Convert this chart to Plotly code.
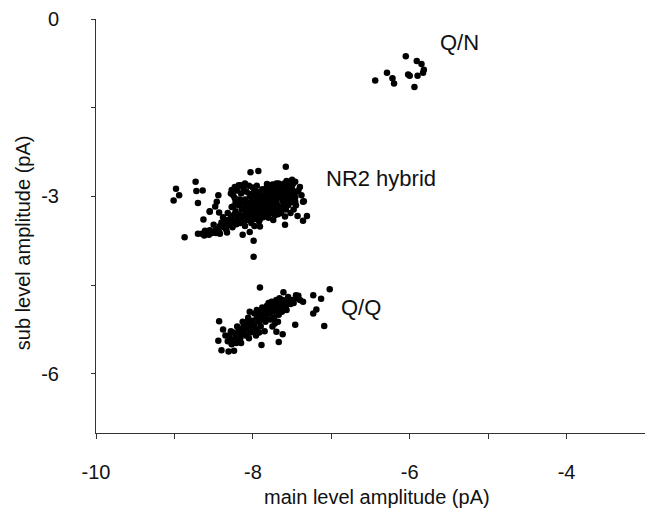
import plotly.graph_objects as go

# ---- data (pA) ----
qn_main = [-6.05, -5.91, -5.85, -6.29, -6.44, -6.22, -6.20, -6.02, -6.00, -5.90, -5.83, -5.82, -5.94]
qn_sub = [-0.63, -0.71, -0.76, -0.91, -1.04, -1.00, -1.09, -0.94, -0.96, -0.96, -0.91, -0.86, -1.15]

nr2_main = [
    -7.58, -8.03, -7.93, -8.98, -8.94, -9.01, -8.73, -8.72, -8.64, -8.70, -8.87, -7.99, -7.99, -7.59,
    -7.43, -7.31, -7.36, -7.35, -7.50, -7.46, -7.40, -7.44, -7.38, -7.55, -7.36, -7.46, -8.44, -8.46,
    -8.48, -8.55, -8.43, -8.27, -8.23, -8.16, -8.28, -8.23, -8.25, -8.18, -8.10, -7.82, -7.76, -7.67,
    -7.97, -8.55, -8.63, -8.50, -8.38, -8.70, -8.61, -8.55, -8.42, -8.33, -8.12, -8.13, -8.04, -7.91,
    -7.74, -7.59,
    -8.10, -8.05, -8.00, -7.95, -7.90, -7.85, -7.80, -7.75, -7.70, -7.65, -7.60,
    -8.12, -8.06, -8.01, -7.96, -7.91, -7.86, -7.81, -7.76, -7.71, -7.66, -7.62,
    -8.15, -8.08, -8.03, -7.98, -7.93, -7.88, -7.83, -7.78, -7.73, -7.68,
    -8.20, -8.14, -8.09, -8.04, -7.99, -7.94, -7.89, -7.84, -7.79, -7.74, -7.69,
    -8.28, -8.24, -8.19, -8.16, -8.30, -8.35, -8.37, -8.42, -8.45, -8.26, -8.22, -8.18, -8.13,
    -7.96, -7.92, -7.87, -7.82, -7.77, -7.72, -7.67, -7.63,
    -8.07, -8.02, -7.98, -8.10,
    -7.58, -7.55, -7.52, -7.57, -7.53, -7.62, -7.66, -7.70, -7.60,
    -8.00, -7.95, -8.05, -7.90, -7.85, -7.80, -7.92, -8.02, -7.98, -7.88,
    -8.17, -8.22, -8.27, -8.32, -8.38, -8.40, -8.34, -8.48, -8.52, -8.58, -8.65, -8.62, -8.56, -8.47, -8.43,
    -8.25, -8.20, -8.12, -7.75, -7.70, -7.60, -7.56, -7.50, -7.48, -7.46, -7.42,
    -7.72, -7.68, -7.64, -7.58, -7.55, -7.50, -7.45, -7.48, -7.52,
    -7.84, -7.94, -8.04, -7.74, -7.64, -7.90, -7.80, -8.14, -8.08, -7.97, -7.82,
    -7.99, -7.93, -7.87, -7.81, -7.77, -8.01, -7.95, -7.89, -7.83, -7.78, -8.06, -7.86, -7.76,
    -8.11, -8.00, -7.91, -7.79, -7.71, -8.16, -8.21, -8.30, -8.36,
    -7.97, -7.88, -7.79, -7.69, -7.62, -7.54, -8.08, -7.93, -7.84, -7.73, -8.18, -8.24, -7.57, -7.49,
]
nr2_sub = [
    -2.50, -2.59, -2.57, -2.87, -2.98, -3.07, -2.75, -2.91, -2.90, -3.11, -3.69, -4.02, -3.75, -3.48,
    -3.33, -3.33, -3.41, -3.08, -2.72, -2.75, -2.84, -2.92, -2.98, -2.98, -3.09, -3.09, -2.98, -3.09,
    -3.17, -3.25, -3.27, -2.89, -2.84, -2.81, -2.95, -3.03, -3.17, -2.81, -2.78, -2.79, -2.81, -2.78,
    -2.92, -3.26, -3.39, -3.48, -3.45, -3.63, -3.58, -3.57, -3.63, -3.61, -3.45, -3.65, -3.60, -3.51,
    -3.40, -3.34,
    -3.05, -3.12, -3.02, -3.10, -3.05, -3.00, -2.95, -2.98, -2.92, -2.90, -2.95,
    -3.20, -3.25, -3.18, -3.22, -3.15, -3.12, -3.08, -3.10, -3.05, -3.02, -3.08,
    -2.95, -2.92, -2.96, -2.90, -2.93, -2.88, -2.86, -2.88, -2.84, -2.86,
    -3.30, -3.35, -3.28, -3.33, -3.27, -3.30, -3.24, -3.20, -3.22, -3.18, -3.15,
    -3.35, -3.42, -3.38, -3.45, -3.48, -3.40, -3.52, -3.50, -3.55, -3.52, -3.25, -3.15, -3.10,
    -3.38, -3.42, -3.35, -3.30, -3.28, -3.25, -3.22, -3.18,
    -3.40, -3.45, -3.50, -3.50,
    -2.88, -2.92, -3.00, -3.05, -2.85, -2.82, -2.98, -3.10, -3.12,
    -2.85, -2.82, -2.82, -2.98, -3.06, -3.14, -3.08, -3.08, -3.14, -3.18,
    -3.05, -3.10, -3.18, -3.28, -3.35, -3.44, -3.56, -3.58, -3.62, -3.60, -3.63, -3.66, -3.65, -3.62, -3.60,
    -2.98, -2.90, -2.86, -2.80, -2.78, -2.78, -2.80, -2.88, -2.95, -3.02, -2.90,
    -3.32, -3.30, -3.28, -3.22, -3.15, -3.10, -3.15, -3.22, -3.28,
    -2.92, -2.98, -3.00, -2.92, -2.84, -3.28, -3.36, -3.22, -3.15, -3.20, -2.98,
    -3.04, -3.02, -3.03, -3.04, -3.15, -3.12, -3.16, -3.11, -3.17, -3.01, -3.22, -3.23, -3.26,
    -3.33, -3.36, -3.38, -3.26, -3.21, -3.32, -3.47, -3.40, -3.46,
    -2.97, -3.07, -3.19, -2.96, -3.00, -3.04, -3.31, -3.24, -3.27, -3.12, -3.08, -3.31, -2.74, -2.79,
]

qq_main = [
    -7.91, -8.43, -8.44, -8.40, -8.31, -8.24, -7.89, -8.21, -7.61, -7.45, -7.23, -7.13, -7.02, -7.19,
    -7.23, -7.36, -7.46, -7.09, -7.70, -7.62, -7.67,
    -8.04, -7.95, -8.06, -8.12, -8.18, -8.27, -7.82, -7.76,
    -8.30, -8.25, -8.22, -8.18, -8.15, -8.12, -8.10, -8.08, -8.05, -8.02, -8.00, -7.98, -7.95, -7.92,
    -7.90, -7.88, -7.85, -7.83, -7.80, -7.78, -7.75, -7.72, -7.70, -7.68, -7.65, -7.62, -7.60, -7.58,
    -7.55, -7.52, -7.50, -7.48,
    -8.28, -8.20, -8.13, -8.06, -7.98, -7.93, -7.87, -7.82, -7.76, -7.70, -7.66,
    -8.24, -8.16, -8.09, -8.03, -7.96, -7.90, -7.84, -7.78, -7.73, -7.67, -7.63, -7.57,
    -8.35, -8.32, -8.38, -8.27, -8.15, -8.05, -7.96, -7.85, -7.75, -7.88, -7.80, -7.45, -7.40, -7.42,
    -7.55, -7.62, -7.68, -7.72, -8.00, -7.92,
]
qq_sub = [
    -4.54, -5.11, -5.44, -5.60, -5.62, -5.61, -5.51, -5.48, -4.62, -4.67, -4.67, -4.73, -4.57, -4.91,
    -4.98, -4.78, -5.17, -5.19, -5.29, -5.33, -5.46,
    -4.95, -4.92, -5.09, -5.20, -5.31, -5.43, -4.86, -4.81,
    -5.35, -5.30, -5.38, -5.25, -5.32, -5.28, -5.18, -5.25, -5.15, -5.20, -5.10, -5.18, -5.05, -5.12,
    -5.00, -5.08, -4.95, -5.02, -4.92, -4.98, -4.88, -4.95, -4.85, -4.90, -4.82, -4.88, -4.80, -4.85,
    -4.78, -4.82, -4.75, -4.80,
    -5.28, -5.20, -5.12, -5.05, -4.98, -4.95, -4.90, -4.85, -4.78, -4.75, -4.72,
    -5.42, -5.40, -5.35, -5.30, -5.25, -5.20, -5.12, -5.08, -5.05, -5.00, -4.95, -4.92,
    -5.35, -5.45, -5.25, -5.50, -5.48, -5.40, -5.35, -5.28, -5.20, -4.88, -4.80, -4.72, -4.75, -4.68,
    -4.70, -4.75, -5.12, -5.15, -5.28, -5.30,
]

labels = ["Q/N", "NR2 hybrid", "Q/Q"]
label_x = [-5.36, -6.36, -6.62]
label_y = [-0.39, -2.70, -4.87]

x_ticks = [-10, -9, -8, -7, -6, -5, -4, -3]
x_ticktext = ["-10", "", "-8", "", "-6", "", "-4", ""]
y_ticks = [0, -1.5, -3, -4.5, -6]
y_ticktext = ["0", "", "-3", "", "-6"]

FONT = "Liberation Sans, Arial, sans-serif"
fig = go.Figure()
marker = dict(color="black", size=6.5, line=dict(width=0))
for xs, ys in [(qn_main, qn_sub), (nr2_main, nr2_sub), (qq_main, qq_sub)]:
    fig.add_trace(go.Scatter(x=xs, y=ys, mode="markers", marker=marker, showlegend=False))

for t, x, y in zip(labels, label_x, label_y):
    fig.add_annotation(x=x, y=y, text=t, showarrow=False, xref="x", yref="y",
                       xanchor="center", yanchor="middle",
                       font=dict(size=22, color="#111", family=FONT))

fig.add_annotation(x=0.512, y=-0.155, xref="paper", yref="paper", text="main level amplitude (pA)",
                   xanchor="center", yanchor="middle",
                   showarrow=False, font=dict(size=20, color="#111", family=FONT))
fig.add_annotation(x=-0.133, y=0.461, xref="paper", yref="paper", text="sub level amplitude (pA)",
                   xanchor="center", yanchor="middle",
                   showarrow=False, textangle=-90, font=dict(size=20, color="#111", family=FONT))

fig.update_xaxes(range=[-10, -3], tickvals=x_ticks, ticktext=x_ticktext, ticks="outside", ticklen=5,
                 tickcolor="#333", showline=True, linecolor="#333", linewidth=1, showgrid=False,
                 zeroline=False, ticklabelstandoff=16, tickfont=dict(size=20, color="#111", family=FONT))
fig.update_yaxes(range=[-7, 0], tickvals=y_ticks, ticktext=y_ticktext, ticks="outside", ticklen=4,
                 tickcolor="#333", showline=True, linecolor="#333", linewidth=1, showgrid=False,
                 zeroline=False, ticklabelstandoff=28, tickfont=dict(size=20, color="#111", family=FONT))

fig.update_layout(width=645, height=510, margin=dict(l=96, r=0, t=19, b=77),
                  plot_bgcolor="white", paper_bgcolor="white")

fig.write_html("out.html")
